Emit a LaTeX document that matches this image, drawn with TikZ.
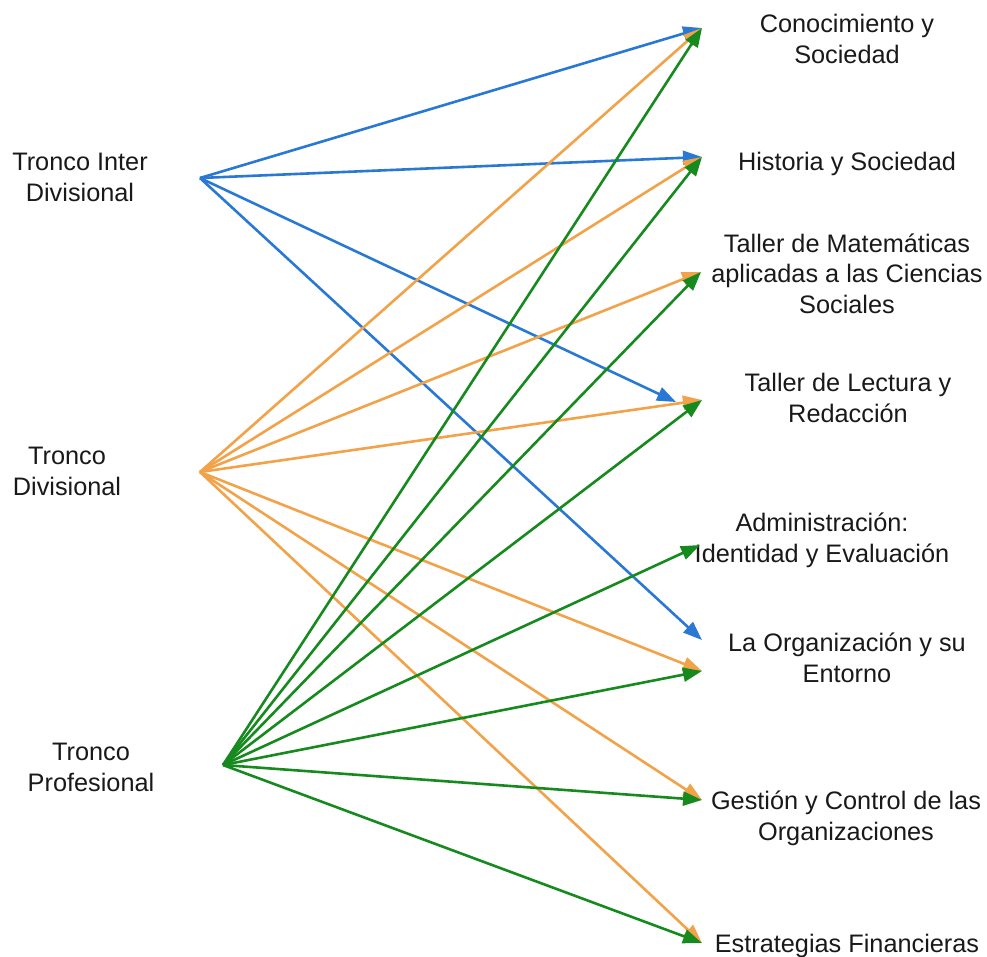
\documentclass[tikz,border=0pt]{standalone}
\usepackage{fontspec}
\setmainfont{Liberation Sans}
\usetikzlibrary{arrows.meta}
\definecolor{cblue}{RGB}{40,120,212}
\definecolor{corange}{RGB}{242,162,72}
\definecolor{cgreen}{RGB}{22,138,30}
\begin{document}
\begin{tikzpicture}[x=1pt,y=-1pt,
  lbl/.style={align=center,anchor=base,inner sep=0pt,font=\fontsize{25.3}{30.5}\selectfont,text=black!90},
  conn/.style={line width=2.6pt,-{Triangle[length=19pt,width=14pt]}},
  bl/.style={conn,draw=cblue,fill=cblue},
  og/.style={conn,draw=corange,fill=corange},
  gr/.style={conn,draw=cgreen,fill=cgreen}]
\useasboundingbox (0,0) rectangle (987,956);
% labels (anchor = baseline of last line)
\node[lbl] (tid) at (80,201) {Tronco Inter\\Divisional};
\node[lbl] (td) at (67,495) {Tronco\\Divisional};
\node[lbl] (tp) at (91,791) {Tronco\\Profesional};
\node[lbl] (lcs) at (847,63) {Conocimiento y\\Sociedad};
\node[lbl] (lhs) at (847,170) {Historia y Sociedad};
\node[lbl] (lmat) at (847,313) {Taller de Matemáticas\\aplicadas a las Ciencias\\Sociales};
\node[lbl] (llr) at (848,422) {Taller de Lectura y\\Redacción};
\node[lbl] (lad) at (822,562) {Administración:\\Identidad y Evaluación};
\node[lbl] (lor) at (847,682) {La Organización y su\\Entorno};
\node[lbl] (lgc) at (846,840) {Gestión y Control de las\\Organizaciones};
\node[lbl] (lef) at (847,952) {Estrategias Financieras};
% sources
\coordinate (s1) at (200,178);
\coordinate (s2) at (200,472);
\coordinate (s3) at (223,765);
% targets
\coordinate (tcs) at (702,28);
\coordinate (ths) at (702,157);
\coordinate (tmat) at (701,272);
\coordinate (tlr) at (702,400);
\coordinate (tlrb) at (676,402);
\coordinate (tad) at (700,545);
\coordinate (tor) at (702,671);
\coordinate (torb) at (702,640);
\coordinate (tgc) at (702,800);
\coordinate (tef) at (702,943);
% blue
\draw[bl] (s1) -- (tcs);
\draw[bl] (s1) -- (ths);
\draw[bl] (s1) -- (tlrb);
\draw[bl] (s1) -- (torb);
% orange
\draw[og] (s2) -- (tcs);
\draw[og] (s2) -- (ths);
\draw[og] (s2) -- (tmat);
\draw[og] (s2) -- (tlr);
\draw[og] (s2) -- (tor);
\draw[og] (s2) -- (tgc);
\draw[og] (s2) -- (tef);
% green
\draw[gr] (s3) -- (tcs);
\draw[gr] (s3) -- (ths);
\draw[gr] (s3) -- (tmat);
\draw[gr] (s3) -- (tlr);
\draw[gr] (s3) -- (tad);
\draw[gr] (s3) -- (tor);
\draw[gr] (s3) -- (tgc);
\draw[gr] (s3) -- (tef);
\end{tikzpicture}
\end{document}
